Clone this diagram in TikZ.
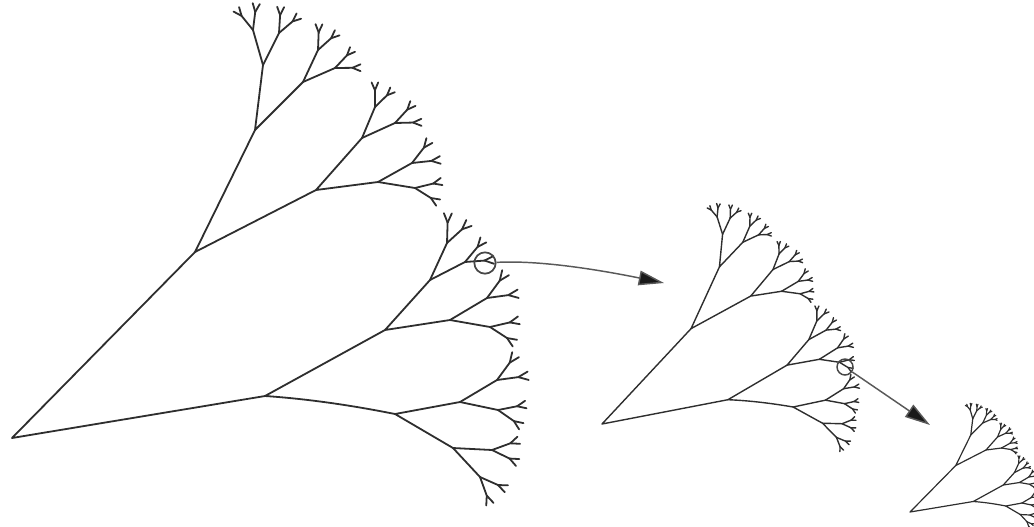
\documentclass[tikz,border=0pt]{standalone}
\usetikzlibrary{arrows.meta}
\tikzset{
  treeline/.style={line cap=round,line join=round,draw=black!82},
  ring/.style={circle,draw=black!72,fill=none,inner sep=0pt},
  zoomarrow/.style={draw=black!65,line width=1.1pt,-{Triangle[length=19pt,width=11pt,fill=black!90]}},
}
\def\twigangle{23}
\def\twigratio{0.5}
\def\leafw{1.2pt}
\newcommand\twig[5]{%
  \ifnum#5>0
  \begingroup
  \pgfmathsetmacro\dxx{(#3-(#1))*\twigratio}%
  \pgfmathsetmacro\dyy{(#4-(#2))*\twigratio}%
  \pgfmathsetmacro\ax{#3+\dxx*cos(\twigangle)-\dyy*sin(\twigangle)}%
  \pgfmathsetmacro\ay{#4+\dxx*sin(\twigangle)+\dyy*cos(\twigangle)}%
  \pgfmathsetmacro\bx{#3+\dxx*cos(\twigangle)+\dyy*sin(\twigangle)}%
  \pgfmathsetmacro\by{#4-\dxx*sin(\twigangle)+\dyy*cos(\twigangle)}%
  \ifnum#5=1 \tikzset{line width=\leafw}\fi
  \draw[treeline] (#3,#4)--(\ax,\ay);
  \draw[treeline] (#3,#4)--(\bx,\by);
  \edef\nextone{\noexpand\twig{#3}{#4}{\ax}{\ay}{\the\numexpr#5-1\relax}\noexpand\twig{#3}{#4}{\bx}{\by}{\the\numexpr#5-1\relax}}%
  \nextone
  \endgroup
  \fi}
\newcommand\seg[4]{\draw[treeline] (#1,#2)--(#3,#4);\twig{#1}{#2}{#3}{#4}{2}}
\newcommand\wholetree{%
  \draw[treeline] (195,252)--(12,438)--(265,396);
  \draw[treeline] (255,130)--(195,252)--(316,190);
  \draw[treeline] (385,330)--(265,396) .. controls (310,399) and (355,406) .. (395,414);
  \draw[treeline] (263,65)--(255,130)--(303,82);
  \draw[treeline] (362,138)--(316,190)--(378,182);
  \draw[treeline] (430,280)--(385,330)--(450,320);
  \draw[treeline] (460,402)--(395,414)--(453,448);
  \seg{263}{65}{253}{30}\seg{263}{65}{279}{33}
  \seg{303}{82}{318}{50}\seg{303}{82}{335}{68}
  \seg{362}{138}{375}{107}\seg{362}{138}{395}{123}
  \seg{378}{182}{412}{163}\seg{378}{182}{415}{188}
  \seg{430}{280}{447}{243}\seg{430}{280}{465}{262}
  \seg{450}{320}{487}{298}\seg{450}{320}{490}{327}
  \seg{460}{402}{497}{380}\seg{460}{402}{498}{410}
  \seg{453}{448}{492}{450}\seg{453}{448}{480}{477}
}
\begin{document}
\begin{tikzpicture}[x=0.75pt,y=-0.75pt]
\useasboundingbox (0,0) rectangle (1034,526);
\clip (0,0) rectangle (1034,526);
\begin{scope}[line width=1.35pt]
  \def\leafw{1.4pt}
  \wholetree
\end{scope}
\begin{scope}[line width=1.05pt,shift={(602,424)},rotate=1.5,scale=0.5,shift={(-12,-438)}]
  \def\leafw{1.5pt}
  \wholetree
\end{scope}
\begin{scope}[line width=0.9pt,shift={(910,512)},scale=0.25,shift={(-12,-438)}]
  \def\leafw{1.6pt}
  \wholetree
\end{scope}
\node[ring,line width=1.3pt,minimum size=16pt] (bigring) at (485,263) {};
\node[ring,line width=1.1pt,minimum size=12pt] (midring) at (845,367) {};
\coordinate (tipone) at (664,283);
\coordinate (tiptwo) at (930,425);
\draw[zoomarrow] (bigring) .. controls (540,260) and (600,270) .. (tipone);
\draw[zoomarrow] (midring) -- (tiptwo);
\end{tikzpicture}
\end{document}
